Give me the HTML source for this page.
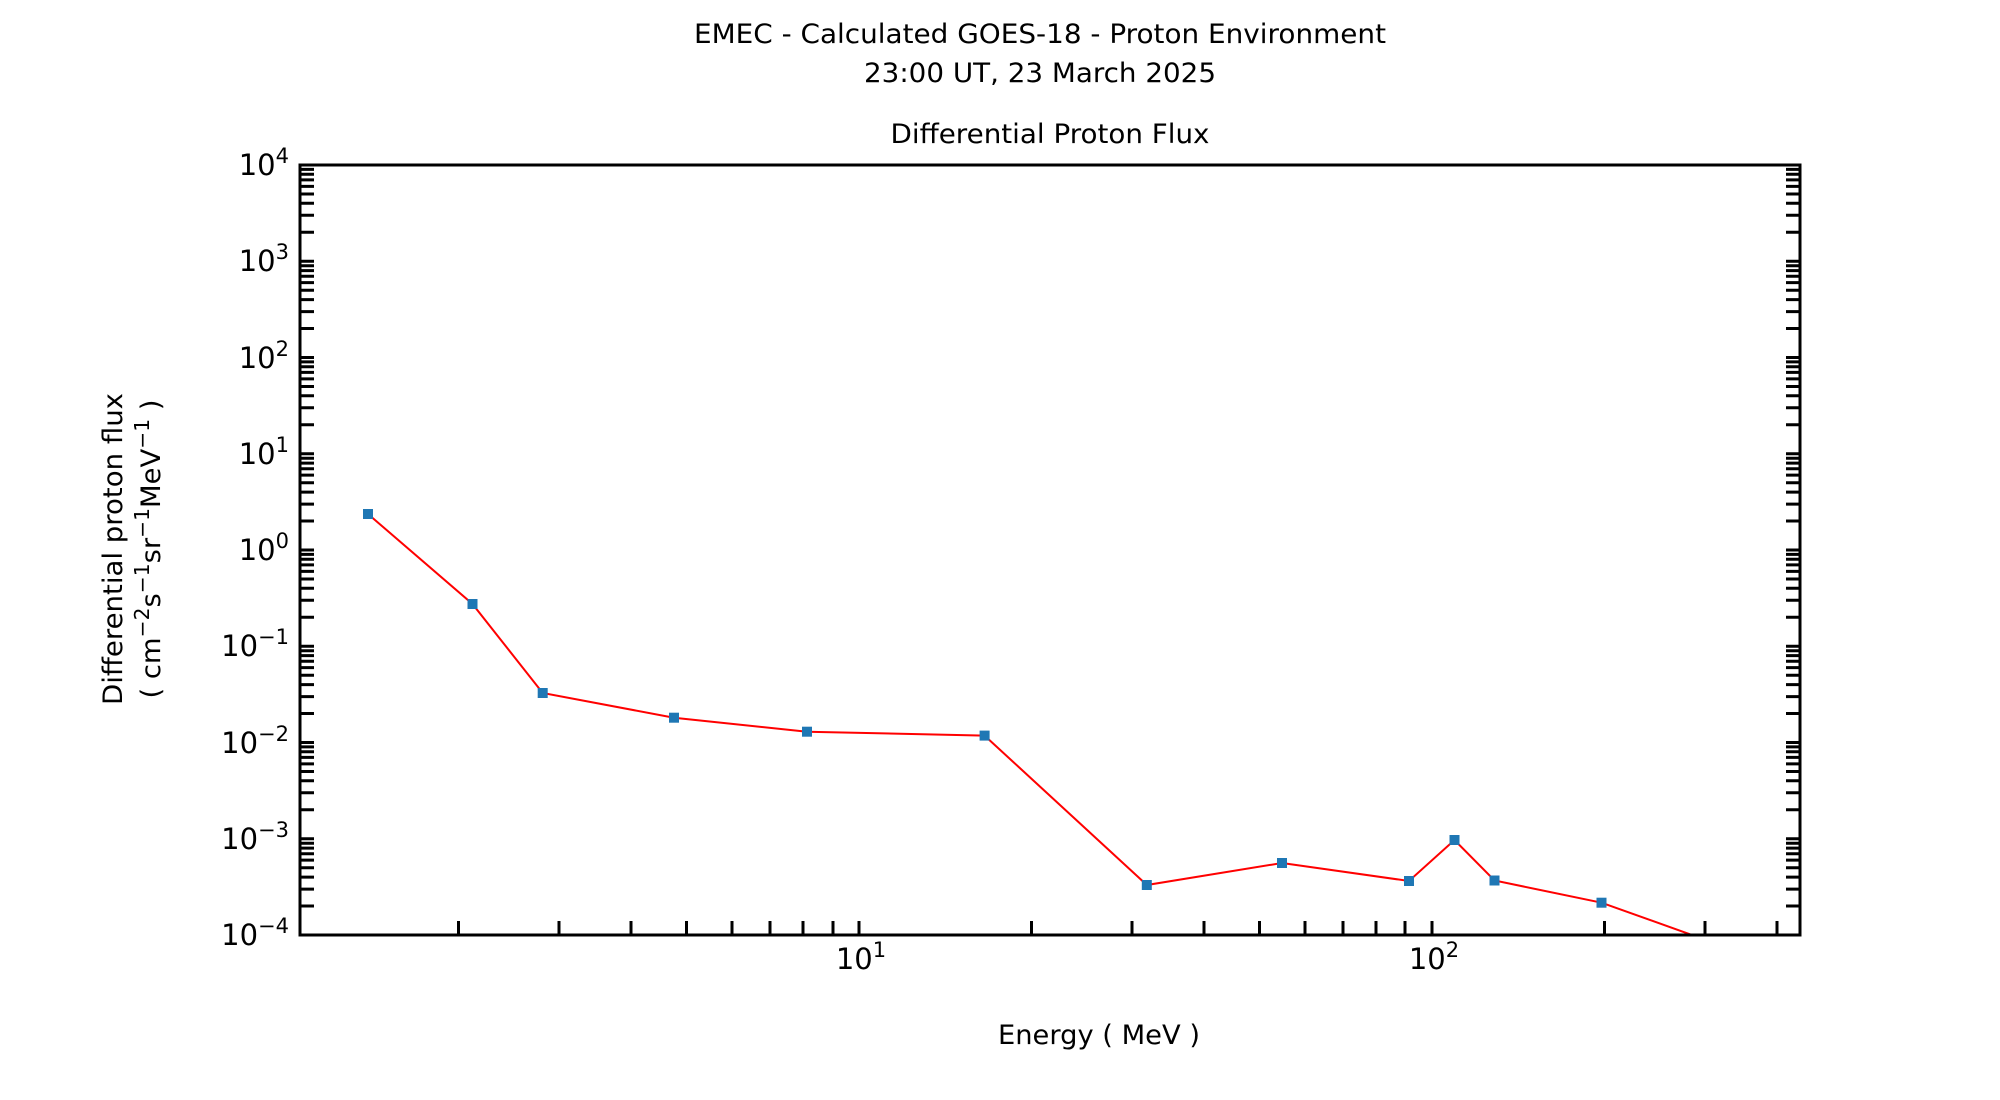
<!DOCTYPE html>
<html><head><meta charset="utf-8"><style>
html,body{margin:0;padding:0;background:#fff;}
svg{display:block;}
text{font-family:"DejaVu Sans","Liberation Sans",sans-serif;fill:#000;}
</style></head><body>
<svg width="2000" height="1100" viewBox="0 0 2000 1100" xmlns="http://www.w3.org/2000/svg">
<rect width="2000" height="1100" fill="#fff"/>
<text x="1040" y="43" font-size="27" text-anchor="middle" textLength="692" lengthAdjust="spacingAndGlyphs">EMEC - Calculated GOES-18 - Proton Environment</text>
<text x="1040" y="82" font-size="27" text-anchor="middle" textLength="352" lengthAdjust="spacingAndGlyphs">23:00 UT, 23 March 2025</text>
<text x="1050" y="143" font-size="27" text-anchor="middle" textLength="319" lengthAdjust="spacingAndGlyphs">Differential Proton Flux</text>
<text x="1099" y="1044" font-size="27" text-anchor="middle" textLength="202" lengthAdjust="spacingAndGlyphs">Energy ( MeV )</text>
<text transform="translate(122,549) rotate(-90)" font-size="27" text-anchor="middle" textLength="312" lengthAdjust="spacingAndGlyphs">Differential proton flux</text>
<text transform="translate(160,549) rotate(-90)" font-size="27" text-anchor="middle" textLength="299" lengthAdjust="spacingAndGlyphs">( cm<tspan dy="-11" font-size="20">−2</tspan><tspan dy="11">s</tspan><tspan dy="-11" font-size="20">−1</tspan><tspan dy="11">sr</tspan><tspan dy="-11" font-size="20">−1</tspan><tspan dy="11">MeV</tspan><tspan dy="-11" font-size="20">−1</tspan><tspan dy="11"> )</tspan></text>

<g font-size="29" text-anchor="end">
<text x="289" y="175">10<tspan dy="-12" font-size="21">4</tspan></text>
<text x="289" y="271">10<tspan dy="-12" font-size="21">3</tspan></text>
<text x="289" y="368">10<tspan dy="-12" font-size="21">2</tspan></text>
<text x="289" y="464">10<tspan dy="-12" font-size="21">1</tspan></text>
<text x="289" y="560">10<tspan dy="-12" font-size="21">0</tspan></text>
<text x="289" y="656">10<tspan dy="-12" font-size="21">−1</tspan></text>
<text x="289" y="753">10<tspan dy="-12" font-size="21">−2</tspan></text>
<text x="289" y="849">10<tspan dy="-12" font-size="21">−3</tspan></text>
<text x="289" y="945">10<tspan dy="-12" font-size="21">−4</tspan></text>
</g>
<g font-size="29" text-anchor="middle">
<text x="861" y="969">10<tspan dy="-12" font-size="21">1</tspan></text>
<text x="1434" y="969">10<tspan dy="-12" font-size="21">2</tspan></text>
</g>

<g stroke="#000" stroke-width="3" fill="none">
<path d="M300 935h14M300 906h14M300 889.1h14M300 877.1h14M300 867.7h14M300 860.1h14M300 853.7h14M300 848.1h14M300 843.2h14
M300 838.8h14M300 809.8h14M300 792.8h14M300 780.8h14M300 771.5h14M300 763.9h14M300 757.4h14M300 751.8h14M300 746.9h14
M300 742.5h14M300 713.5h14M300 696.6h14M300 684.6h14M300 675.2h14M300 667.6h14M300 661.2h14M300 655.6h14M300 650.7h14
M300 646.3h14M300 617.3h14M300 600.3h14M300 588.3h14M300 579h14M300 571.4h14M300 564.9h14M300 559.3h14M300 554.4h14
M300 550h14M300 521h14M300 504.1h14M300 492.1h14M300 482.7h14M300 475.1h14M300 468.7h14M300 463.1h14M300 458.2h14
M300 453.8h14M300 424.8h14M300 407.8h14M300 395.8h14M300 386.5h14M300 378.9h14M300 372.4h14M300 366.8h14M300 361.9h14
M300 357.5h14M300 328.5h14M300 311.6h14M300 299.6h14M300 290.2h14M300 282.6h14M300 276.2h14M300 270.6h14M300 265.7h14
M300 261.3h14M300 232.3h14M300 215.3h14M300 203.3h14M300 194h14M300 186.4h14M300 179.9h14M300 174.3h14M300 169.4h14M300 165h14"/>
<path d="M1800 935h-14M1800 906h-14M1800 889.1h-14M1800 877.1h-14M1800 867.7h-14M1800 860.1h-14M1800 853.7h-14M1800 848.1h-14M1800 843.2h-14
M1800 838.8h-14M1800 809.8h-14M1800 792.8h-14M1800 780.8h-14M1800 771.5h-14M1800 763.9h-14M1800 757.4h-14M1800 751.8h-14M1800 746.9h-14
M1800 742.5h-14M1800 713.5h-14M1800 696.6h-14M1800 684.6h-14M1800 675.2h-14M1800 667.6h-14M1800 661.2h-14M1800 655.6h-14M1800 650.7h-14
M1800 646.3h-14M1800 617.3h-14M1800 600.3h-14M1800 588.3h-14M1800 579h-14M1800 571.4h-14M1800 564.9h-14M1800 559.3h-14M1800 554.4h-14
M1800 550h-14M1800 521h-14M1800 504.1h-14M1800 492.1h-14M1800 482.7h-14M1800 475.1h-14M1800 468.7h-14M1800 463.1h-14M1800 458.2h-14
M1800 453.8h-14M1800 424.8h-14M1800 407.8h-14M1800 395.8h-14M1800 386.5h-14M1800 378.9h-14M1800 372.4h-14M1800 366.8h-14M1800 361.9h-14
M1800 357.5h-14M1800 328.5h-14M1800 311.6h-14M1800 299.6h-14M1800 290.2h-14M1800 282.6h-14M1800 276.2h-14M1800 270.6h-14M1800 265.7h-14
M1800 261.3h-14M1800 232.3h-14M1800 215.3h-14M1800 203.3h-14M1800 194h-14M1800 186.4h-14M1800 179.9h-14M1800 174.3h-14M1800 169.4h-14M1800 165h-14"/>
<path d="M458.5 935v-14M559 935v-14M631 935v-14M686.5 935v-14M732 935v-14M770 935v-14M803 935v-14M833 935v-14M859 935v-14
M1031.5 935v-14M1132 935v-14M1204 935v-14M1259.5 935v-14M1305 935v-14M1343 935v-14M1376 935v-14M1405 935v-14M1432 935v-14
M1604.5 935v-14M1705 935v-14M1777 935v-14"/>
</g>

<defs><clipPath id="c"><rect x="300" y="165" width="1500" height="770"/></clipPath></defs>
<g clip-path="url(#c)">
<polyline fill="none" stroke="#ff0000" stroke-width="2" points="368,514 472.5,604 542.7,693 674,717.7 807,731.7 984.6,735.6 1146.8,885 1282,863 1409,881 1454.5,840 1494.5,880.5 1601.5,902.7 1720,945"/>
<g fill="#1f77b4">
<rect x="363" y="509" width="10" height="10"/>
<rect x="467.5" y="599" width="10" height="10"/>
<rect x="537.7" y="688" width="10" height="10"/>
<rect x="669" y="712.7" width="10" height="10"/>
<rect x="802" y="726.7" width="10" height="10"/>
<rect x="979.6" y="730.6" width="10" height="10"/>
<rect x="1141.8" y="880" width="10" height="10"/>
<rect x="1277" y="858" width="10" height="10"/>
<rect x="1404" y="876" width="10" height="10"/>
<rect x="1449.5" y="835" width="10" height="10"/>
<rect x="1489.5" y="875.5" width="10" height="10"/>
<rect x="1596.5" y="897.7" width="10" height="10"/>
</g>
</g>
<rect x="300" y="165" width="1500" height="770" fill="none" stroke="#000" stroke-width="3"/>
</svg>
</body></html>
